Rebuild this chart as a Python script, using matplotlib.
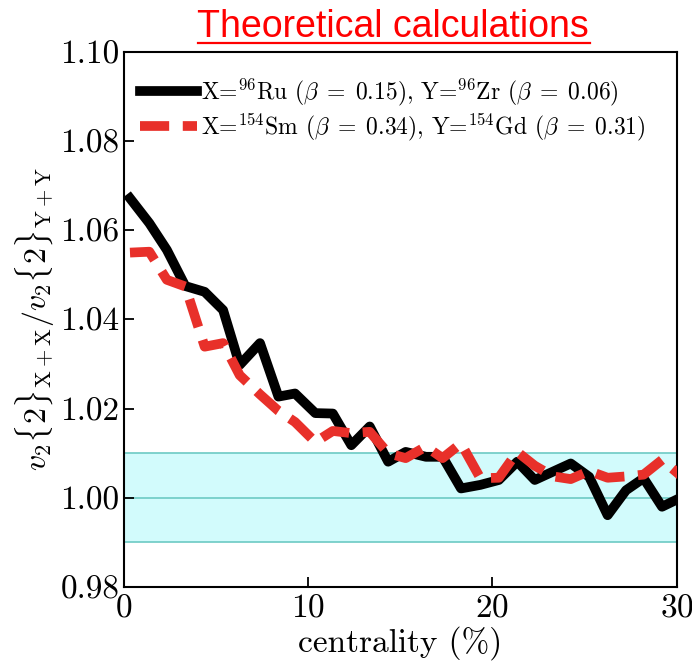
import matplotlib
matplotlib.use('Agg')
import matplotlib.pyplot as plt
from matplotlib.lines import Line2D

plt.rcParams['font.family'] = 'serif'
plt.rcParams['font.serif'] = ['cmr10']
plt.rcParams['mathtext.fontset'] = 'cm'
plt.rcParams['axes.formatter.use_mathtext'] = True

# centrality bins (%)
cent = [0.35, 1.4, 2.35, 3.35, 4.4, 5.4, 6.3, 7.4, 8.4, 9.3,
        10.4, 11.35, 12.35, 13.35, 14.35, 15.3, 16.4, 17.3, 18.3, 19.35,
        20.35, 21.35, 22.3, 23.3, 24.25, 25.25, 26.25, 27.25, 28.2, 29.2, 30.2]

# Ru/Zr ratio
ru_zr = [1.0672, 1.0616, 1.0556, 1.0475, 1.0462, 1.0421, 1.0298, 1.0347, 1.0227, 1.0234,
         1.0190, 1.0189, 1.0118, 1.0160, 1.0081, 1.0103, 1.0092, 1.0092, 1.0021, 1.0029,
         1.0040, 1.0081, 1.0040, 1.0059, 1.0077, 1.0047, 0.9961, 1.0017, 1.0044, 0.9980, 1.0000]

# Sm/Gd ratio
sm_gd = [1.0550, 1.0552, 1.0489, 1.0474, 1.0339, 1.0347, 1.0275, 1.0232, 1.0195, 1.0170,
         1.0125, 1.0150, 1.0145, 1.0148, 1.0100, 1.0089, 1.0115, 1.0089, 1.0122, 1.0044,
         1.0045, 1.0103, 1.0072, 1.0048, 1.0042, 1.0060, 1.0045, 1.0048, 1.0052, 1.0085, 1.0050]

band_lo, band_mid, band_hi = 0.99, 1.00, 1.01

fig = plt.figure(figsize=(6.92, 6.69), dpi=100)
ax = fig.add_axes([0.1785, 0.1226, 0.7995, 0.7997])

ax.axhspan(band_lo, band_hi, color='#d2fbfc', zorder=0, lw=0)
for v in (band_lo, band_mid, band_hi):
    ax.axhline(v, color='#6ccac4', lw=1.2, zorder=1)

ax.plot(cent, ru_zr, color='black', lw=7,
        label=r'X=$^{96}$Ru ($\beta\;=\;0.15$), Y=$^{96}$Zr ($\beta\;=\;0.06$)', zorder=3)
ax.plot(cent, sm_gd, color='#e8302a', lw=7, ls=(0, (3.0, 1.4)),
        label=r'X=$^{154}$Sm ($\beta\;=\;0.34$), Y=$^{154}$Gd ($\beta\;=\;0.31$)', zorder=4)

ax.set_xlim(0, 30)
ax.set_ylim(0.98, 1.10)
ax.set_xticks([0, 10, 20, 30])
ax.set_yticks([0.98, 1.00, 1.02, 1.04, 1.06, 1.08, 1.10])
ax.set_yticklabels(['%.2f' % t for t in ax.get_yticks()])
ax.tick_params(direction='in', length=7, width=1.3, labelsize=24)
ax.tick_params(axis='y', pad=3)
ax.tick_params(axis='x', pad=5)
for s in ax.spines.values():
    s.set_linewidth(1.5)

ax.set_xlabel('centrality (%)', fontsize=24, labelpad=2)
ax.set_ylabel(r'$v_2\{2\}_{\rm X+X}/v_2\{2\}_{\rm Y+Y}$', fontsize=23, labelpad=2)

ax.legend(loc='upper left', frameon=False, fontsize=17, handlelength=2.4,
          handletextpad=0.2, borderaxespad=0.3, labelspacing=0.15,
          bbox_to_anchor=(0.0, 0.985))

fig.text(0.568, 1 - 37 / 669, 'Theoretical calculations', color='red',
         fontsize=27, family='Liberation Sans', ha='center', va='baseline')
fig.add_artist(Line2D([198 / 692, 590 / 692], [1 - 43 / 669, 1 - 43 / 669],
                      color='red', lw=1.6, transform=fig.transFigure))

fig.savefig('out.png', dpi=100)
